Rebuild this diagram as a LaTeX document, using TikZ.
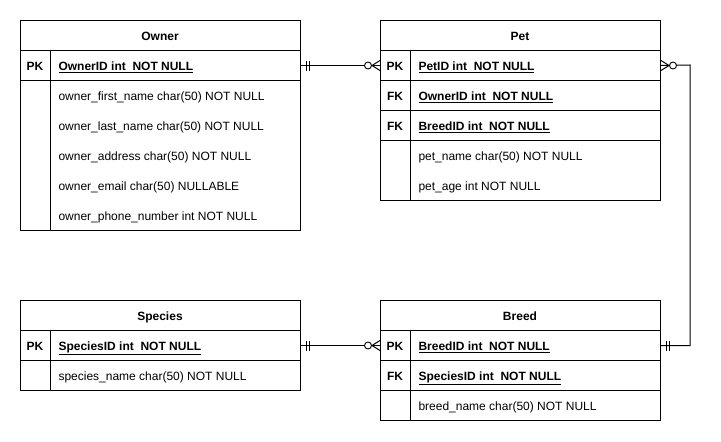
\documentclass[tikz,border=0pt]{standalone}
\usepackage{fontspec}
\setmainfont{Liberation Sans}
\begin{document}
\begin{tikzpicture}[x=1pt,y=-1pt,line width=1pt,
  font=\fontsize{12}{14}\selectfont,
  tbl/.style={draw, minimum width=280pt, inner sep=0pt, anchor=north west},
  rowbox/.style={draw, minimum width=280pt, minimum height=30pt, inner sep=0pt, anchor=north west},
  txt/.style={inner sep=0pt, text height=8.6pt, text depth=0pt, yshift=-1.5pt},
  hdr/.style={txt, font=\fontsize{12}{14}\selectfont\bfseries},
  keylab/.style={txt, font=\fontsize{12}{14}\selectfont\bfseries},
  fld/.style={txt, anchor=west},
  kfld/.style={txt, anchor=west, font=\fontsize{12}{14}\selectfont\bfseries},
  ring/.style={draw, fill=white, circle, inner sep=0pt, minimum size=7pt, line width=0.9pt}
]
\useasboundingbox (0,0) rectangle (721,442);

% ---------- Owner ----------
\node[tbl, minimum height=210pt] (owner) at (20,20) {};
\node[hdr] (ownerT) at (160,35) {Owner};
\node[rowbox] (ownerpk) at (20,50) {};
\draw (50,50) -- (50,230);
\node[keylab] (ownerPKl) at (35,65) {PK};
\node[kfld] (ownerF0) at (58,65) {\underline{OwnerID int\ \ NOT NULL}};
\node[fld] (ownerF1) at (58,95) {owner\_first\_name char(50) NOT NULL};
\node[fld] (ownerF2) at (58,125) {owner\_last\_name char(50) NOT NULL};
\node[fld] (ownerF3) at (58,155) {owner\_address char(50) NOT NULL};
\node[fld] (ownerF4) at (58,185) {owner\_email char(50) NULLABLE};
\node[fld] (ownerF5) at (58,215) {owner\_phone\_number int NOT NULL};

% ---------- Pet ----------
\node[tbl, minimum height=180pt] (pet) at (380,20) {};
\node[hdr] (petT) at (520,35) {Pet};
\node[rowbox] (petpk) at (380,50) {};
\node[rowbox] (petfk1) at (380,80) {};
\node[rowbox] (petfk2) at (380,110) {};
\draw (410,50) -- (410,200);
\node[keylab] (petPKl) at (395,65) {PK};
\node[keylab] (petFK1l) at (395,95) {FK};
\node[keylab] (petFK2l) at (395,125) {FK};
\node[kfld] (petF0) at (418,65) {\underline{PetID int\ \ NOT NULL}};
\node[kfld] (petF1) at (418,95) {\underline{OwnerID int\ \ NOT NULL}};
\node[kfld] (petF2) at (418,125) {\underline{BreedID int\ \ NOT NULL}};
\node[fld] (petF3) at (418,155) {pet\_name char(50) NOT NULL};
\node[fld] (petF4) at (418,185) {pet\_age int NOT NULL};

% ---------- Species ----------
\node[tbl, minimum height=90pt] (species) at (20,300) {};
\node[hdr] (speciesT) at (160,315) {Species};
\node[rowbox] (speciespk) at (20,330) {};
\draw (50,330) -- (50,390);
\node[keylab] (speciesPKl) at (35,345) {PK};
\node[kfld] (speciesF0) at (58,345) {\underline{SpeciesID int\ \ NOT NULL}};
\node[fld] (speciesF1) at (58,375) {species\_name char(50) NOT NULL};

% ---------- Breed ----------
\node[tbl, minimum height=120pt] (breed) at (380,300) {};
\node[hdr] (breedT) at (520,315) {Breed};
\node[rowbox] (breedpk) at (380,330) {};
\node[rowbox] (breedfk) at (380,360) {};
\draw (410,330) -- (410,420);
\node[keylab] (breedPKl) at (395,345) {PK};
\node[keylab] (breedFKl) at (395,375) {FK};
\node[kfld] (breedF0) at (418,345) {\underline{BreedID int\ \ NOT NULL}};
\node[kfld] (breedF1) at (418,375) {\underline{SpeciesID int\ \ NOT NULL}};
\node[fld] (breedF2) at (418,405) {breed\_name char(50) NOT NULL};

% ---------- Connectors ----------
% Owner -> Pet
\draw (ownerpk.east) -- (petpk.west);
\draw ([xshift=5pt]ownerpk.east) +(0,-5) -- +(0,5);
\draw ([xshift=8pt]ownerpk.east) +(0,-5) -- +(0,5);
\draw ([xshift=-8pt]petpk.west) -- ([yshift=5pt]petpk.west);
\draw ([xshift=-8pt]petpk.west) -- ([yshift=-5pt]petpk.west);
\node[ring] (r1) at ([xshift=-12pt]petpk.west) {};

% Species -> Breed
\draw (speciespk.east) -- (breedpk.west);
\draw ([xshift=5pt]speciespk.east) +(0,-5) -- +(0,5);
\draw ([xshift=8pt]speciespk.east) +(0,-5) -- +(0,5);
\draw ([xshift=-8pt]breedpk.west) -- ([yshift=5pt]breedpk.west);
\draw ([xshift=-8pt]breedpk.west) -- ([yshift=-5pt]breedpk.west);
\node[ring] (r2) at ([xshift=-12pt]breedpk.west) {};

% Breed -> Pet
\coordinate (bend) at (690,65);
\draw (petpk.east) -- (bend) |- (breedpk.east);
\draw ([xshift=5pt]breedpk.east) +(0,-5) -- +(0,5);
\draw ([xshift=8pt]breedpk.east) +(0,-5) -- +(0,5);
\draw ([xshift=8pt]petpk.east) -- ([yshift=5pt]petpk.east);
\draw ([xshift=8pt]petpk.east) -- ([yshift=-5pt]petpk.east);
\node[ring] (r3) at ([xshift=12pt]petpk.east) {};
\end{tikzpicture}
\end{document}
